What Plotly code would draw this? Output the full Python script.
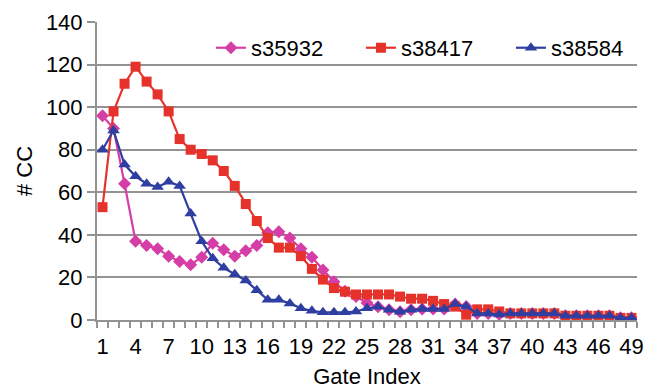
import plotly.graph_objects as go

gate_index = list(range(1, 50))
tick_labels = [str(v) for v in range(1, 50, 3)]
tick_positions = list(range(1, 50, 3))

s35932 = [96, 90, 64, 37, 35, 33.5, 30, 27.5, 26, 29.5,
          36, 33, 30, 32.5, 35, 41, 41.5, 38.5, 33.5, 29.5,
          23.5, 18, 13.5, 11, 8, 6.2, 4.8, 3.9, 4.8, 5.2,
          5.2, 5.2, 7.5, 6.3, 3.1, 3.1, 2.6, 3.1, 3.1, 3.1,
          3.1, 3.1, 2, 2, 2, 2, 2, 1, 1]
s38417 = [53, 98, 111, 119, 112, 106, 98, 85, 80, 78,
          75, 70, 63, 54.5, 46.5, 38.5, 34, 34, 30, 24,
          19, 15, 13.3, 12, 12, 12, 12, 11, 10, 10,
          9, 7.5, 6.3, 2.5, 5, 5, 4, 3.1, 3.1, 3.1,
          3.1, 3.1, 2, 2, 2, 2, 2, 1, 1]
s38584 = [80, 89, 73, 67.5, 64, 62.5, 65, 63, 50, 37,
          29, 24.5, 21.5, 18.5, 14, 9.5, 9.5, 7.8, 5.5, 4.3,
          3.6, 3.6, 3.6, 4, 5.5, 6.2, 4.8, 3.9, 4.8, 5.2,
          5.2, 5.2, 7.5, 6.3, 3.1, 3.1, 2.6, 3.1, 3.1, 3.1,
          3.1, 3.1, 2, 2, 2, 2, 2, 1, 1]

series = [
    ("s35932", s35932, "#d53ea6", "diamond", 10),
    ("s38417", s38417, "#e5322a", "square", 10),
    ("s38584", s38584, "#2f3ea1", "triangle-up", 11),
]

fig = go.Figure()
for name, vals, color, sym, size in series:
    fig.add_trace(go.Scatter(
        x=gate_index, y=vals, name=name, mode="lines+markers",
        line=dict(color=color, width=2.2),
        marker=dict(symbol=sym, size=size, color=color, line=dict(width=0)),
    ))

font_family = "Liberation Sans, Arial, Helvetica, sans-serif"
grid_color = "#939393"

fig.update_layout(
    template="none",
    width=656, height=390,
    margin=dict(l=97, r=19, t=22, b=70, autoexpand=False),
    paper_bgcolor="white", plot_bgcolor="white",
    font=dict(family=font_family, size=22, color="black"),
    showlegend=True,
    legend=dict(
        orientation="h", x=0.211, xanchor="left", y=0.913, yanchor="middle",
        font=dict(size=22), bgcolor="rgba(0,0,0,0)", entrywidth=105,
        itemwidth=30, tracegroupgap=0,
    ),
    xaxis=dict(
        automargin=False,
        range=[0.5, 49.5], tickmode="array", tickvals=tick_positions,
        ticktext=tick_labels, ticks="outside", ticklen=6,
        tickcolor="rgba(0,0,0,0)", showgrid=False, zeroline=False,
        showline=True, linecolor=grid_color, linewidth=2,
        minor=dict(tick0=0.5, dtick=1, ticks="outside", ticklen=6,
                   tickcolor=grid_color, tickwidth=1.5, showgrid=False),
        title=dict(text="Gate Index", standoff=10, font=dict(size=22)),
        tickfont=dict(size=22),
    ),
    yaxis=dict(
        automargin=False,
        range=[0, 140], dtick=20, ticks="outside", ticklen=8,
        tickcolor=grid_color, tickwidth=1.5, showgrid=True,
        gridcolor=grid_color, gridwidth=1.5, zeroline=False,
        showline=True, linecolor=grid_color, linewidth=2,
        title=dict(text="# CC", standoff=7, font=dict(size=22)),
        tickfont=dict(size=22),
    ),
)

fig.write_html(
    "out.html",
    config={"displayModeBar": False},
    post_script="document.body.style.margin='0';document.body.style.overflow='hidden';",
)
